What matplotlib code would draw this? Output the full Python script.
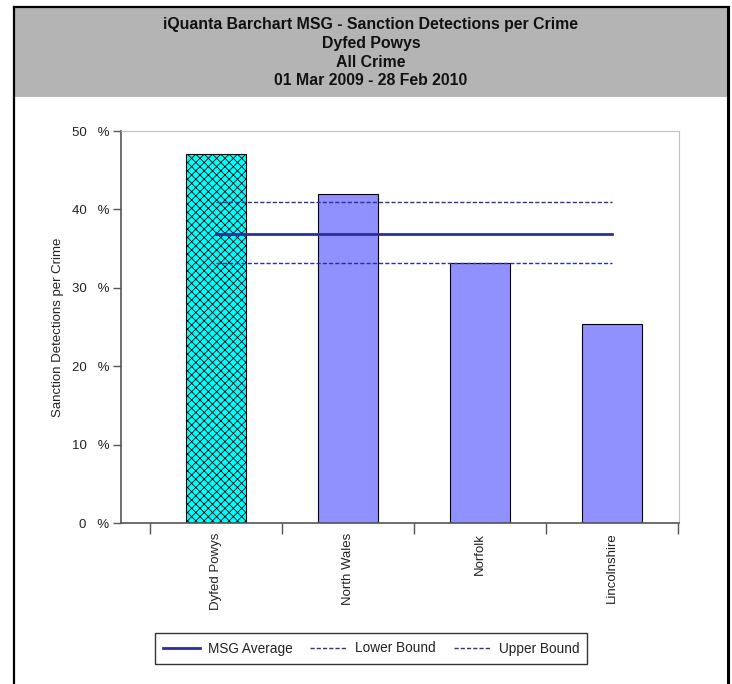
import numpy as np
import matplotlib
matplotlib.use("Agg")
import matplotlib.pyplot as plt
from matplotlib.patches import Rectangle
from matplotlib.lines import Line2D

plt.rcParams['font.family'] = ['Liberation Sans', 'DejaVu Sans']
plt.rcParams['hatch.color'] = '#143232'
plt.rcParams['hatch.linewidth'] = 0.6

# Data
forces = ['Dyfed Powys', 'North Wales', 'Norfolk', 'Lincolnshire']
rates = [47.1, 42.0, 33.1, 25.4]
msg_average = 36.9
lower_bound = 33.1
upper_bound = 41.0
y_ticks = [0, 10, 20, 30, 40, 50]

title_lines = ['iQuanta Barchart MSG - Sanction Detections per Crime',
               'Dyfed Powys', 'All Crime', '01 Mar 2009 - 28 Feb 2010']

W, H = 732, 684
fig = plt.figure(figsize=(W / 100, H / 100), dpi=100)

# page frame and grey header
fig.patches.append(Rectangle((14 / W, 1 - 97 / H), 714 / W, 90 / H,
                             transform=fig.transFigure, facecolor='#b4b4b4',
                             edgecolor='none', zorder=0))
fig.add_artist(Line2D([14 / W, 14 / W], [0, 1 - 7 / H], transform=fig.transFigure,
                      color='black', lw=1.6))
fig.add_artist(Line2D([728 / W, 728 / W], [0, 1 - 7 / H], transform=fig.transFigure,
                      color='black', lw=2.2))
fig.add_artist(Line2D([14 / W, 728 / W], [1 - 7 / H, 1 - 7 / H], transform=fig.transFigure,
                      color='black', lw=1.6))

for i, line in enumerate(title_lines):
    fig.text(371 / W, 1 - (24.5 + 18.8 * i) / H, line, ha='center', va='center',
             fontsize=11.4, fontweight='bold', color='#111111')

ax = fig.add_axes([121 / W, 161 / H, 558 / W, 392 / H])
x = np.arange(len(forces))
colors = ['#00ffff'] + ['#9090ff'] * (len(forces) - 1)
bars = ax.bar(x, rates, width=0.455, color=colors, edgecolor='black', linewidth=0.8, zorder=2)
bars[0].set_hatch('xxxx')

line_color = '#2e2e9a'
ax.plot([x[0], x[-1]], [msg_average] * 2, color=line_color, lw=2, zorder=3, label='MSG Average')
ax.plot([x[0], x[-1]], [lower_bound] * 2, color=line_color, lw=1, ls=(0, (3, 1.5)), zorder=3,
        label='Lower Bound')
ax.plot([x[0], x[-1]], [upper_bound] * 2, color=line_color, lw=1, ls=(0, (3, 1.5)), zorder=3,
        label='Upper Bound')

ax.set_xlim(-0.72, 3.51)
ax.set_ylim(0, 50)
ax.set_yticks(y_ticks)
ax.set_yticklabels([f'{v}   %' for v in y_ticks], fontsize=9.5, color='#222222')
ax.tick_params(axis='y', length=6, width=1, color='#555555', pad=2.5)

ax.set_xticks(x)
ax.set_xticklabels(forces, rotation=90, fontsize=9.5, color='#222222', va='top')
ax.tick_params(axis='x', which='major', length=0, pad=7)
ax.set_xticks(np.arange(-0.5, len(forces)), minor=True)
ax.tick_params(axis='x', which='minor', length=8, width=1, color='#555555')

for side in ['top', 'right']:
    ax.spines[side].set_color('#c0c0c0')
for side in ['left', 'bottom']:
    ax.spines[side].set_color('#555555')
    ax.spines[side].set_linewidth(1.2)

ax.set_ylabel('Sanction Detections per Crime', fontsize=9.5, color='#222222')
ax.yaxis.set_label_coords(-0.102, 0.5)

leg = fig.legend(loc='center', bbox_to_anchor=(371 / W, 1 - 648.5 / H), ncol=3,
                 fontsize=9.8, frameon=True, fancybox=False, handlelength=2.7,
                 columnspacing=1.3, handletextpad=0.6, borderpad=0.6,
                 borderaxespad=0)
leg.get_frame().set_edgecolor('black')
leg.get_frame().set_linewidth(1)
for t in leg.get_texts():
    t.set_color('#222222')

fig.savefig('out.png', dpi=100)
